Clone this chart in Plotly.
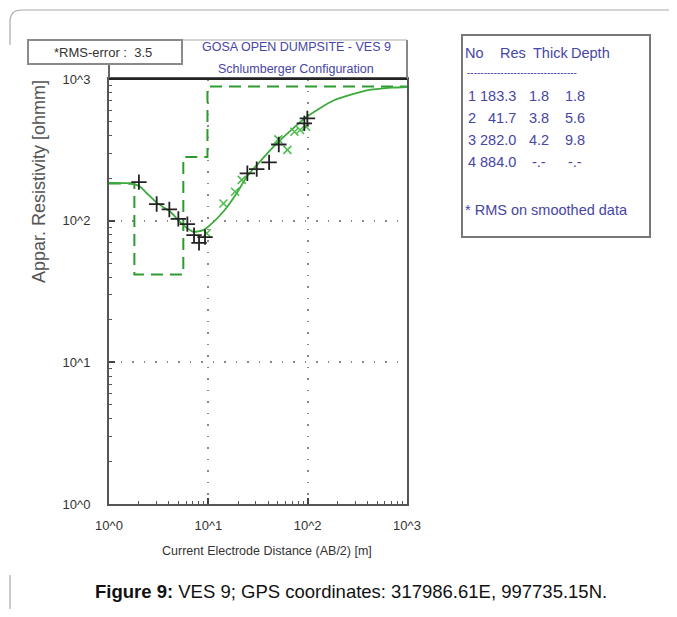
import plotly.graph_objects as go

# ---------------- data ----------------
# observed apparent resistivity (black +)
obs_ab2 = [2.0, 3.02, 4.05, 4.99, 6.15, 7.18, 8.06, 9.26, 24.7, 30.7, 40.9, 51.2, 92.6, 99.3]
obs_rho = [187, 131, 120, 103, 94.6, 79, 69.8, 76.6, 216, 231, 258, 345, 486, 527]

# smoothed data (green x)
smo_ab2 = [9.64, 14.2, 18.6, 21.7, 50.7, 62.5, 73.5, 83.8, 96.4]
smo_rho = [81.4, 132, 160, 194, 375, 316, 424, 436, 460]

# model response curve (green solid)
fit_ab2 = [1.0, 1.5, 2.0, 2.5, 3.02, 4.11, 5.6, 7.06, 8.9, 10.4, 14.2, 19.3, 24.4, 48.9, 98, 182, 394, 700, 1000]
fit_rho = [185, 184, 176, 152, 134, 116, 93, 83.5, 85.8, 93, 116, 156, 204, 351, 541, 705, 830, 868, 878]

# layered model (table + dashed step)
layer_no = [1, 2, 3, 4]
layer_res = [183.3, 41.7, 282.0, 884.0]
layer_thick = ["1.8", "3.8", "4.2", "-.-"]
layer_depth = ["1.8", "5.6", "9.8", "-.-"]
depth_vals = [1.8, 5.6, 9.8]
x_min, x_max = 1, 1000

x_ticks = [1, 10, 100, 1000]
x_tick_text = ["10^0", "10^1", "10^2", "10^3"]
y_ticks = [1, 10, 100, 1000]
y_tick_text = ["10^0", "10^1", "10^2", "10^3"]
minor_ticks = [m * 10 ** e for e in range(3) for m in range(2, 10)]

# build step line from the model
step_x, step_y = [x_min], [layer_res[0]]
for i, d in enumerate(depth_vals):
    step_x += [d, d]
    step_y += [layer_res[i], layer_res[i + 1]]
step_x.append(x_max)
step_y.append(layer_res[-1])

# ---------------- figure ----------------
FONT = "Liberation Sans Narrow, Liberation Sans, Arial, sans-serif"
OFF = 8                      # page body margin
W, H = 677 - 2 * OFF, 617 - 2 * OFF
L, R, T, B = 109, 407, 79, 504   # plot area in page pixels
BLUE = "#4646a6"
GREEN = "#3daa3d"


def px(x):
    return (x - L) / (R - L)


def py(y):
    return (B - y) / (B - T)


fig = go.Figure()
fig.add_trace(go.Scatter(x=step_x, y=step_y, mode="lines",
                         line=dict(color="#2f9a2f", width=2, dash="12px,7px"),
                         hoverinfo="skip"))
fig.add_trace(go.Scatter(x=fit_ab2, y=fit_rho, mode="lines",
                         line=dict(color=GREEN, width=1.8, shape="spline", smoothing=0.6)))
fig.add_trace(go.Scatter(x=smo_ab2, y=smo_rho, mode="markers",
                         marker=dict(symbol="x-thin", size=8, line=dict(color="#4cbb4c", width=1.5))))
fig.add_trace(go.Scatter(x=obs_ab2, y=obs_rho, mode="markers",
                         marker=dict(symbol="cross-thin", size=11, line=dict(color="#222222", width=1.8))))

axis_common = dict(
    type="log", showline=True, linecolor="#555555", linewidth=2, mirror=True,
    showgrid=True, gridcolor="#888888", griddash="1.5px,10px", gridwidth=1.5,
    ticks="inside", ticklen=6, tickcolor="#444444", tickwidth=1.5,
    tickfont=dict(family=FONT, size=13, color="#333333"),
    zeroline=False,
    minor=dict(tickmode="array", tickvals=minor_ticks, ticks="inside", ticklen=3,
               tickcolor="#555555", tickwidth=1, showgrid=False),
)
fig.update_xaxes(range=[0, 3], tickmode="array", tickvals=x_ticks, ticktext=x_tick_text,
                 ticklabelstandoff=8, **axis_common)
fig.update_yaxes(range=[0, 3], tickmode="array", tickvals=y_ticks, ticktext=y_tick_text,
                 ticklabelstandoff=14, **axis_common)

shapes = []
ann = []

# frame extensions for title band
shapes.append(dict(type="line", xref="paper", yref="paper", x0=0, x1=0, y0=1, y1=py(40),
                   line=dict(color="#666666", width=2)))
shapes.append(dict(type="line", xref="paper", yref="paper", x0=1, x1=1, y0=1, y1=py(40),
                   line=dict(color="#888888", width=2)))
shapes.append(dict(type="line", xref="paper", yref="paper", x0=0, x1=1, y0=1, y1=1,
                   line=dict(color="#222222", width=2)))
shapes.append(dict(type="line", xref="paper", yref="paper", x0=px(28), x1=px(407), y0=py(40), y1=py(40),
                   line=dict(color="#aaaaaa", width=1)))
# RMS box
shapes.append(dict(type="rect", xref="paper", yref="paper", x0=px(28), x1=px(182), y0=py(40), y1=py(64),
                   line=dict(color="#8a8a8a", width=2), fillcolor="white"))
# table box
shapes.append(dict(type="rect", xref="paper", yref="paper", x0=px(462), x1=px(650), y0=py(35), y1=py(237),
                   line=dict(color="#777777", width=2), fillcolor="white"))
# outer page border
shapes.append(dict(type="path", xref="paper", yref="paper",
                   path=f"M {px(10)},{py(45)} L {px(10)},{py(22)} Q {px(10)},{py(10)} {px(22)},{py(10)} L {px(690)},{py(10)}",
                   line=dict(color="#aaaaaa", width=1.2)))
shapes.append(dict(type="line", xref="paper", yref="paper", x0=px(10), x1=px(10), y0=py(575), y1=py(620),
                   line=dict(color="#aaaaaa", width=1.2)))


def text(t, x, y, font, anchor="center", angle=0):
    ann.append(dict(text=t, x=px(x), y=py(y), xref="paper", yref="paper", xanchor=anchor,
                    yanchor="middle", textangle=angle, showarrow=False, font=font))


text("*RMS-error :  3.5", 103, 53, dict(family=FONT, size=13, color="#333333"))
text("GOSA OPEN DUMPSITE - VES 9", 296, 47, dict(family=FONT, size=12.5, color=BLUE))
text("Schlumberger Configuration", 296, 69, dict(family=FONT, size=12.5, color=BLUE))
text("Appar. Resistivity [ohmm]", 39, 182, dict(family=FONT, size=18, color="#555555"), angle=-90)
text("Current Electrode Distance (AB/2) [m]", 267, 551, dict(family=FONT, size=12.5, color="#333333"))
text("<b>Figure 9:</b> VES 9; GPS coordinates: 317986.61E, 997735.15N.", 351, 591,
     dict(family="Liberation Sans, Arial, sans-serif", size=18.5, color="#111111"))

# table text
tf = dict(family=FONT, size=14.5, color=BLUE)
text("No", 463, 53, tf, "left")
text("Res", 498, 53, tf, "left")
text("Thick", 531, 53, tf, "left")
text("Depth", 569, 53, tf, "left")
text("-" * 33, 465, 73, dict(family=FONT, size=10, color=BLUE), "left")
row_y = [96, 118, 140, 162]
for i in range(4):
    text(str(layer_no[i]), 466, row_y[i], tf, "left")
    text(f"{layer_res[i]:.1f}", 518, row_y[i], tf, "right")
    text(layer_thick[i], 539, row_y[i], tf)
    text(layer_depth[i], 575, row_y[i], tf)
text("* RMS on smoothed data", 463, 210, tf, "left")

fig.update_layout(
    width=W, height=H, showlegend=False,
    margin=dict(l=L - OFF, r=W - (R - OFF), t=T - OFF, b=H - (B - OFF)),
    paper_bgcolor="white", plot_bgcolor="white",
    shapes=shapes, annotations=ann,
)
fig.write_html("out.html")
